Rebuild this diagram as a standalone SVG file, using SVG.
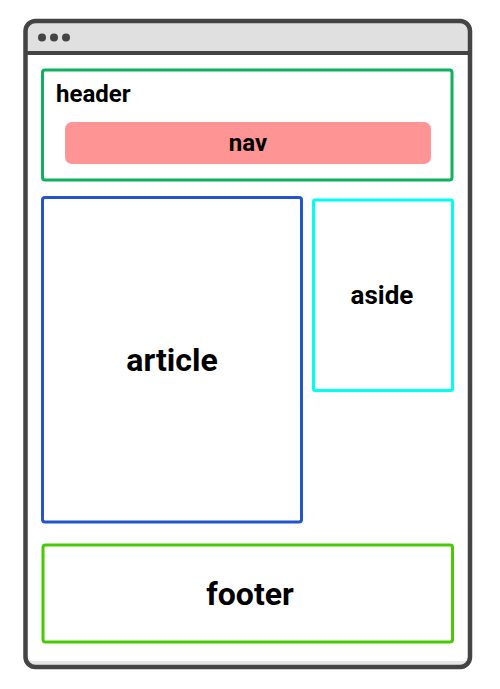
<svg xmlns="http://www.w3.org/2000/svg" width="500" height="689" viewBox="0 0 500 689">
<style>
.lbl{font-family:Roboto,"Liberation Sans",sans-serif;font-weight:700;fill:#000;text-anchor:middle}
.box{fill:none;stroke-width:3}
</style>
<rect width="500" height="689" fill="#fff"/>
<g id="browser">
<rect x="25.5" y="21" width="444.5" height="646" rx="10" fill="#fff"/>
<path d="M25.5 53 V31 A10 10 0 0 1 35.5 21 H460 A10 10 0 0 1 470 31 V53 Z" fill="#e0e0e0"/>
<rect x="27.5" y="661" width="440.5" height="4" fill="#e6e6e6"/>
<line x1="25.5" y1="53" x2="470" y2="53" stroke="#444" stroke-width="4"/>
<rect x="25.5" y="21" width="444.5" height="646" rx="10" fill="none" stroke="#444" stroke-width="4.5"/>
<circle cx="42" cy="37.5" r="4" fill="#444"/>
<circle cx="54" cy="37.5" r="4" fill="#444"/>
<circle cx="66" cy="37.5" r="4" fill="#444"/>
</g>
<g id="header">
<rect class="box" x="42.5" y="70" width="409.5" height="110" rx="2.5" stroke="#0db15e"/>
<text class="lbl" x="56" y="102" style="text-anchor:start" font-size="24">header</text>
</g>
<g id="nav">
<rect x="65" y="122" width="366" height="42" rx="7" fill="#ff9494"/>
<text class="lbl" x="248" y="151" font-size="24">nav</text>
</g>
<g id="article">
<rect class="box" x="42.5" y="197.5" width="259" height="324.5" rx="2.5" stroke="#2255cc"/>
<text class="lbl" x="172" y="371" font-size="32">article</text>
</g>
<g id="aside">
<rect class="box" x="313.5" y="200" width="139" height="190.5" rx="1.5" stroke="#00ffee"/>
<text class="lbl" x="382" y="304" font-size="26">aside</text>
</g>
<g id="footer">
<rect class="box" x="43" y="545" width="409.5" height="97" rx="2.5" stroke="#44cc00"/>
<text class="lbl" x="250" y="605" font-size="32">footer</text>
</g>
<g id="connectors"/>
</svg>
